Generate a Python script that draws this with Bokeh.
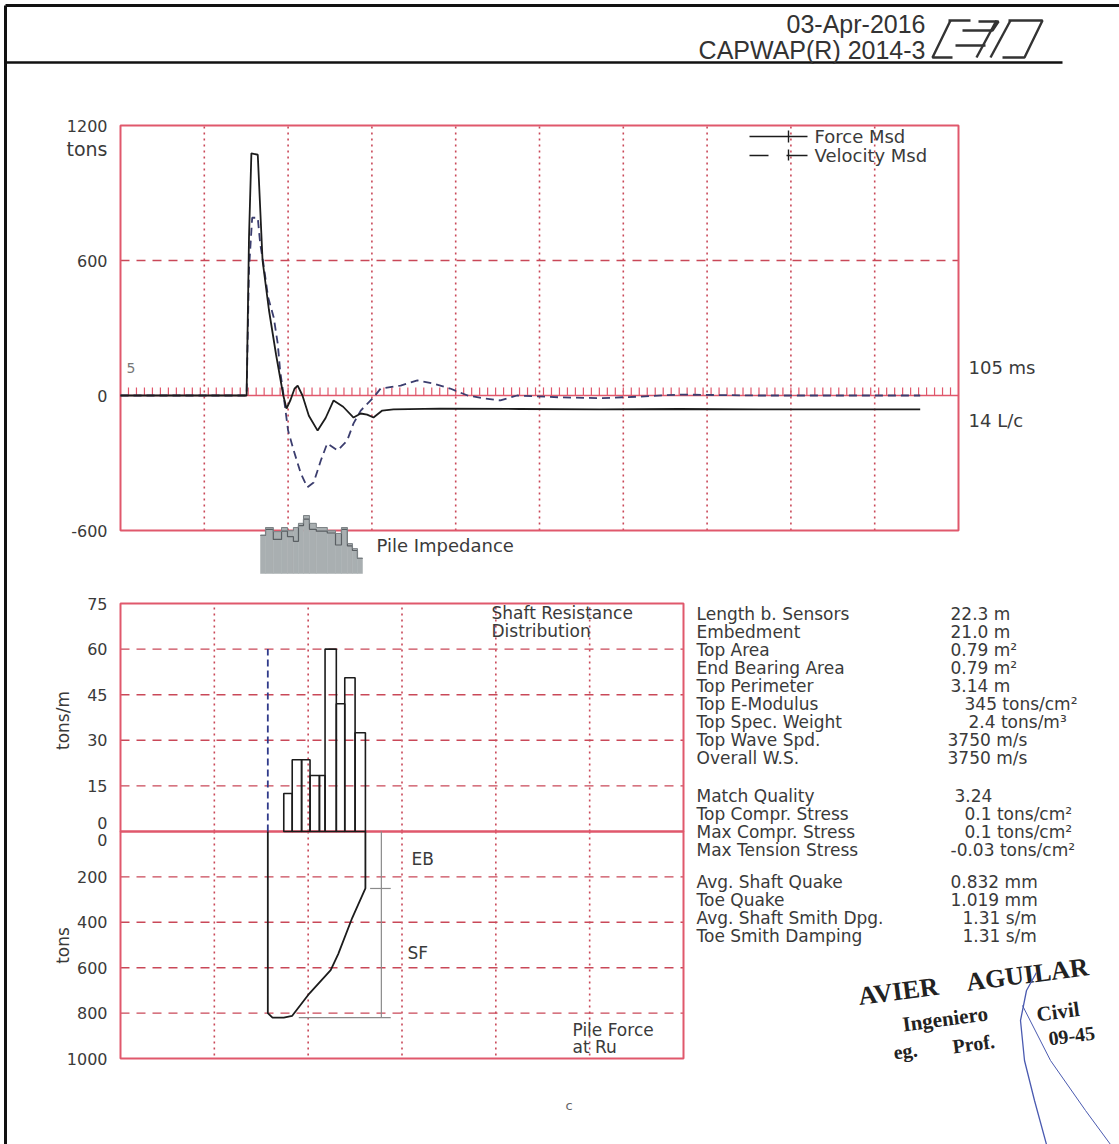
import math
from bokeh.plotting import figure
from bokeh.models import Range1d
from bokeh.embed import file_html
from bokeh.resources import INLINE
from bokeh.core.properties import value

W, H = 1119, 1144

# ---------------- data ----------------
# measured force / velocity (tons) against time (ms)
force_t = [0, 15.8, 16.1, 16.4, 17.2, 17.8, 18.6, 19.5, 20.4, 20.8, 21.3, 21.8, 22.2, 22.8,
           23.6, 24.7, 25.7, 26.7, 27.9, 29.2, 30.1, 30.9, 31.7, 32.8, 34.2, 40, 50, 60, 70,
           80, 90, 100.2]
force_tons = [0, 0, 700, 1076, 1070, 600, 380, 180, 0, -58, -20, 30, 44, 0,
              -90, -156, -100, -22, -50, -98, -80, -85, -98, -67, -62, -58, -60, -62, -60,
              -62, -62, -62]
vel_t = [0, 15.8, 16.1, 16.5, 17.2, 17.5, 17.9, 18.5, 19.2, 19.7, 20.0, 20.4, 21.0, 21.7,
         22.6, 23.4, 24.2, 25.1, 25.9, 27.2, 28.4, 29.2, 30.1, 31.7, 32.6, 35.1, 37.2, 39.2,
         41.3, 43.5, 45.5, 47.6, 49.7, 55, 60, 65, 70, 80, 90, 100.2]
vel_tons = [0, 0, 560, 790, 790, 676, 587, 436, 347, 231, 111, 9, -156, -244,
            -347, -408, -387, -289, -213, -244, -200, -124, -67, -9, 31, 44, 67, 53,
            31, 0, -13, -22, 0, -8, -12, -5, 4, 0, 0, 0]
time_span_ms = 105
top_y_ticks = [1200, 600, 0, -600]
top_y_labels = ["1200", "600", "0", "-600"]
time_grid_ms = [10.5, 21.0, 31.5, 42.0, 52.5, 63.0, 73.5, 84.0, 94.5]
time_marks_ms = list(range(1, 105))

# pile impedance profile (% of top impedance) along the pile (m)
imp_edges = [0, 1.1, 2.8, 4.6, 5.9, 7.2, 8.3, 9.4, 10.7, 12.2, 14.6, 16.4, 17.7, 19.0, 20.1, 21.2, 22.3]
imp_values = [83, 100, 91, 100, 93, 100, 109, 126, 109, 100, 93, 87, 100, 65, 54, 33]
imp_model = [83, 96, 74, 92, 80, 70, 104, 118, 96, 92, 88, 62, 96, 60, 50, 33]

# shaft resistance distribution (tons/m) per segment
srd_left = [17.4, 18.3, 19.3, 20.2, 21.2, 21.8, 23.0, 23.9, 25.0]
srd_right = [18.3, 19.3, 20.2, 21.2, 21.8, 23.0, 23.9, 25.0, 26.1]
srd_tons_per_m = [12.5, 23.6, 23.6, 18.4, 18.4, 60.0, 42.0, 50.6, 32.5]
srd_ticks = [75, 60, 45, 30, 15]
srd_labels = ["75", "60", "45", "30", "15"]

# pile force at Ru (tons) along the pile
pf_x = [15.7, 15.7, 16.2, 17.4, 18.3, 20.0, 22.4, 23.2, 24.7, 26.1, 26.1]
pf_tons = [0, 800, 820, 820, 812, 720, 611, 540, 380, 251, 0]
pf_ticks = [200, 400, 600, 800, 1000]
pf_labels = ["200", "400", "600", "800", "1000"]
pos_grid = [10, 20, 30, 40, 50]
pos_span = 60
sensor_pos = 15.7
ru_total = 820
end_bearing = 251
ru_marker_pos = 27.8
ru_marker_from = 19.0

param_names_1 = ["Length b. Sensors", "Embedment", "Top Area", "End Bearing Area",
                 "Top Perimeter", "Top E-Modulus", "Top Spec. Weight", "Top Wave Spd.",
                 "Overall W.S."]
param_values_1 = ["22.3 m", "21.0 m", "0.79 m²", "0.79 m²", "3.14 m", "345 tons/cm²",
                  "2.4 tons/m³", "3750 m/s", "3750 m/s"]
value_x_1 = [950, 950, 950, 950, 950, 964, 968, 947, 947]
param_names_2 = ["Match Quality", "Top Compr. Stress", "Max Compr. Stress", "Max Tension Stress"]
param_values_2 = ["3.24", "0.1 tons/cm²", "0.1 tons/cm²", "-0.03 tons/cm²"]
value_x_2 = [954, 964, 964, 950]
param_names_3 = ["Avg. Shaft Quake", "Toe Quake", "Avg. Shaft Smith Dpg.", "Toe Smith Damping"]
param_values_3 = ["0.832 mm", "1.019 mm", "1.31 s/m", "1.31 s/m"]
value_x_3 = [950, 950, 962, 962]

# ---------------- styling ----------------
RED = "#e0586c"
GRID_RED = "#c94858"
INK = "#1c1c1c"
TXT = "#3a3a3a"
FONT = value("DejaVu Sans")

p = figure(width=W, height=H, x_range=Range1d(0, W), y_range=Range1d(H, 0),
           x_axis_type=None, y_axis_type=None, output_backend="svg",
           toolbar_location=None, min_border=0, outline_line_color=None,
           background_fill_color="white", border_fill_color="white")


def frame_range(px_a, px_b, val_a, val_b, vertical=False):
    """Range whose values val_a/val_b land on canvas pixels px_a/px_b."""
    k = (val_b - val_a) / (px_b - px_a)
    if vertical:
        return Range1d(start=val_a + (H - px_a) * k, end=val_a - px_a * k)
    return Range1d(start=val_a - px_a * k, end=val_a + (W - px_a) * k)


p.extra_x_ranges = {
    "t": frame_range(120, 958, 0, time_span_ms),
    "s": frame_range(120, 683, 0, pos_span),
    "imp": frame_range(260, 362, 0, imp_edges[-1]),
}
p.extra_y_ranges = {
    "f": frame_range(530, 125, -600, 1200, vertical=True),
    "r": frame_range(831, 603, 0, 75, vertical=True),
    "pf": frame_range(831, 1058, 0, 1000, vertical=True),
    "iz": frame_range(573, 527, 0, 100, vertical=True),
}


def txt(x, y, s, size="17px", align="left", color=TXT, baseline="middle", **kw):
    p.text(x=x, y=y, text=s, text_font=kw.pop("font", FONT), text_font_size=size,
           text_align=align, text_baseline=baseline, text_color=color, **kw)


# ---------------- page frame & header ----------------
p.segment(x0=[5, 5, 5], y0=[5, 5, 62], x1=[W, 5, 1062], y1=[5, H, 62],
          line_color="#111", line_width=[3, 3, 2.5])
head = value("Liberation Sans")
txt([925], [23], ["03-Apr-2016"], size="25px", align="right", color="#333", font=head)
txt([925], [49], ["CAPWAP(R) 2014-3"], size="25px", align="right", color="#333", font=head)
# PDI logo
logo = [
    ([950, 932, 952], [20, 57, 57]),
    ([948, 970], [20, 20]),
    ([962, 992, 998, 978], [30, 30, 21, 21]),
    ([955, 985], [45, 45]),
    ([976, 996], [57, 20]),
    ([990, 1010], [57, 20]),
    ([1008, 1042, 1024, 1002], [20, 20, 57, 57]),
]
for xs, ys in logo:
    p.line(xs, ys, line_color="#333", line_width=2.4)

# ---------------- top panel: force / velocity ----------------
tr = dict(x_range_name="t", y_range_name="f")
n = len(time_grid_ms)
p.segment(x0=time_grid_ms, y0=[min(top_y_ticks)] * n, x1=time_grid_ms, y1=[max(top_y_ticks)] * n,
          line_color=GRID_RED, line_width=1.6, line_dash="2 4", **tr)
p.segment(x0=[0], y0=[600], x1=[time_span_ms], y1=[600], line_color=GRID_RED,
          line_width=1.4, line_dash="9 7", **tr)
p.segment(x0=[0], y0=[0], x1=[time_span_ms], y1=[0], line_color=RED, line_width=1.6, **tr)
m = len(time_marks_ms)
p.segment(x0=time_marks_ms, y0=[0] * m, x1=time_marks_ms, y1=[36] * m,
          line_color=RED, line_width=1.2, **tr)
p.quad(left=[0], right=[time_span_ms], bottom=[min(top_y_ticks)], top=[max(top_y_ticks)],
       fill_color=None, line_color=RED, line_width=2, **tr)
p.line(vel_t, vel_tons, line_color="#3b3d6e", line_width=1.8, line_dash="8 5", **tr)
p.line(force_t, force_tons, line_color=INK, line_width=1.8, **tr)

txt([107] * 4, top_y_ticks, top_y_labels, size="16px", align="right", y_range_name="f")
txt([107], [148], ["tons"], size="19px", align="right")
txt([126], [367], ["5"], size="14px", color="#777")
txt([968], [367], ["105 ms"], size="18px")
txt([968], [420], ["14 L/c"], size="18px")

# legend
p.segment(x0=[749, 788], y0=[136, 130], x1=[807, 788], y1=[136, 142], line_color=INK, line_width=1.4)
p.segment(x0=[749, 786, 788], y0=[155, 155, 149], x1=[768, 807, 788], y1=[155, 155, 160],
          line_color=INK, line_width=1.4)
txt([814, 814], [136, 155], ["Force Msd", "Velocity Msd"], size="18px")

# pile impedance skyline
ir = dict(x_range_name="imp", y_range_name="iz")
p.quad(left=imp_edges[:-1], right=imp_edges[1:], bottom=[0] * len(imp_values), top=imp_values,
       fill_color="#a9afb1", line_color="#a9afb1", line_width=0.5, **ir)
p.step(x=imp_edges, y=imp_model + [imp_model[-1]], mode="after",
       line_color="#5a5f63", line_width=1.2, **ir)
p.step(x=imp_edges, y=imp_values + [imp_values[-1]], mode="after",
       line_color="#7d8386", line_width=1.0, **ir)
txt([376], [545], ["Pile Impedance"], size="18px")

# ---------------- lower panel: shaft resistance & pile force ----------------
sr = dict(x_range_name="s", y_range_name="r")
pr = dict(x_range_name="s", y_range_name="pf")
k = len(pos_grid)
p.segment(x0=pos_grid, y0=[0] * k, x1=pos_grid, y1=[75] * k, line_color=GRID_RED,
          line_width=1.6, line_dash="2 4", **sr)
p.segment(x0=pos_grid, y0=[0] * k, x1=pos_grid, y1=[1000] * k, line_color=GRID_RED,
          line_width=1.6, line_dash="2 4", **pr)
hs = srd_ticks[1:]
p.segment(x0=[0] * len(hs), y0=hs, x1=[pos_span] * len(hs), y1=hs, line_color=GRID_RED,
          line_width=1.4, line_dash="9 7", **sr)
hp = pf_ticks[:-1]
p.segment(x0=[0] * len(hp), y0=hp, x1=[pos_span] * len(hp), y1=hp, line_color=GRID_RED,
          line_width=1.4, line_dash="9 7", **pr)
p.quad(left=[0], right=[pos_span], bottom=[0], top=[75], fill_color=None,
       line_color=RED, line_width=2, **sr)
p.quad(left=[0], right=[pos_span], bottom=[1000], top=[0], fill_color=None,
       line_color=RED, line_width=2, **pr)

p.segment(x0=[sensor_pos], y0=[0], x1=[sensor_pos], y1=[60], line_color="#2f3a8a",
          line_width=1.8, line_dash="7 4", **sr)
p.quad(left=srd_left, right=srd_right, bottom=[0] * len(srd_left), top=srd_tons_per_m,
       fill_color=None, line_color=INK, line_width=1.6, **sr)

p.segment(x0=[ru_marker_pos, ru_marker_from, 26.6], y0=[0, ru_total, end_bearing],
          x1=[ru_marker_pos, ru_marker_pos + 1.0, ru_marker_pos + 1.0],
          y1=[ru_total, ru_total, end_bearing], line_color="#8a8a8a", line_width=1.2, **pr)
p.line(pf_x, pf_tons, line_color=INK, line_width=1.8, **pr)

txt([107] * len(srd_ticks), srd_ticks, srd_labels, size="16px", align="right", y_range_name="r")
txt([107] * len(pf_ticks), pf_ticks, pf_labels, size="16px", align="right", y_range_name="pf")
txt([107, 107], [822, 839], ["0", "0"], size="16px", align="right")
txt([62], [720], ["tons/m"], size="17px", align="center", angle=math.pi / 2)
txt([62], [945], ["tons"], size="17px", align="center", angle=math.pi / 2)
txt([491, 491], [612, 630], ["Shaft Resistance", "Distribution"], size="17px")
txt([411], [858], ["EB"], size="17px")
txt([407], [952], ["SF"], size="17px")
txt([572, 572], [1029, 1046], ["Pile Force", "at Ru"], size="17px")

# ---------------- parameter table ----------------
for names, vals, vx, y0 in [(param_names_1, param_values_1, value_x_1, 613),
                            (param_names_2, param_values_2, value_x_2, 795),
                            (param_names_3, param_values_3, value_x_3, 881)]:
    ys = [y0 + 18 * i for i in range(len(names))]
    txt([696] * len(names), ys, names, size="17px")
    txt(vx, ys, vals, size="17px")

# ---------------- stamp & footer ----------------
stamp = value("Liberation Serif")
txt([858, 966], [996, 982], ["AVIER", "AGUILAR"], size="26px", color="#222", font=stamp,
    text_font_style="bold", angle=0.13)
txt([902, 1036], [1024, 1014], ["Ingeniero", "Civil"], size="21px", color="#222", font=stamp,
    text_font_style="bold", angle=0.13)
txt([893, 952, 1048], [1052, 1046, 1038], ["eg.", "Prof.", "09-45"], size="20px", color="#222",
    font=stamp, text_font_style="bold", angle=0.13)
p.line([1036, 1026, 1020, 1024, 1034, 1046], [972, 990, 1020, 1060, 1100, 1144],
       line_color="#4a5ab0", line_width=1.3)
p.line([1022, 1050, 1085, 1110], [1005, 1060, 1110, 1144], line_color="#4a5ab0", line_width=1.0)
txt([565], [1105], ["c"], size="13px", color="#666")

open("out.html", "w").write(file_html(p, INLINE))
